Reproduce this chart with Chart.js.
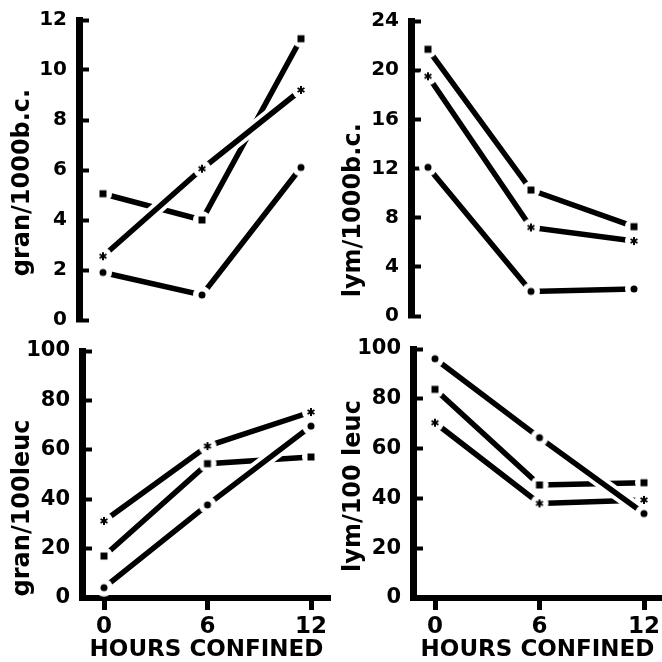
<!DOCTYPE html>
<html>
<head>
<meta charset="utf-8">
<script src="https://cdn.jsdelivr.net/npm/chart.js@4.4.1/dist/chart.umd.min.js"></script>
<style>
  body { margin: 0; background: #fff; }
  #wrap { position: relative; width: 662px; height: 662px; overflow: hidden; }
  canvas { position: absolute; }
</style>
</head>
<body>
<div id="wrap">
  <canvas id="gran-abs" width="331" height="331" style="left:0;top:0"></canvas>
  <canvas id="lym-abs" width="331" height="331" style="left:331px;top:0"></canvas>
  <canvas id="gran-pct" width="331" height="331" style="left:0;top:331px"></canvas>
  <canvas id="lym-pct" width="331" height="331" style="left:331px;top:331px"></canvas>
</div>
<script>
//data
const hours = [0, 6, 12];

const granAbsSquare = [5.05, 4.0, 11.25];
const granAbsStar = [2.55, 6.05, 9.2];
const granAbsCircle = [1.9, 1.0, 6.1];

const lymAbsSquare = [21.7, 10.25, 7.27];
const lymAbsStar = [19.5, 7.2, 6.1];
const lymAbsCircle = [12.1, 2.0, 2.2];

const granPctSquare = [17.0, 54.4, 57.1];
const granPctStar = [31.2, 61.5, 75.3];
const granPctCircle = [4.2, 37.7, 69.6];

const lymPctSquare = [83.8, 45.4, 46.3];
const lymPctStar = [70.4, 38.0, 39.4];
const lymPctCircle = [96.1, 64.4, 33.9];

const xTitle = 'HOURS CONFINED';

Chart.defaults.font.family = 'DejaVu Sans';
Chart.defaults.font.weight = 'bold';
Chart.defaults.color = '#000';

//markers with a white halo so the lines stop short of them
function makeMarker(kind) {
  const c = document.createElement('canvas');
  c.width = 20;
  c.height = 20;
  const ctx = c.getContext('2d');
  ctx.fillStyle = '#fff';
  ctx.beginPath();
  ctx.arc(10, 10, 9, 0, Math.PI * 2);
  ctx.fill();
  ctx.fillStyle = '#000';
  ctx.strokeStyle = '#000';
  if (kind === 'square') {
    ctx.fillRect(6.5, 6.5, 7, 7);
  } else if (kind === 'circle') {
    ctx.beginPath();
    ctx.arc(10, 10, 3.5, 0, Math.PI * 2);
    ctx.fill();
  } else {
    ctx.lineWidth = 2;
    for (let i = 0; i < 3; i++) {
      const a = Math.PI / 2 + i * Math.PI / 3;
      ctx.beginPath();
      ctx.moveTo(10 - Math.cos(a) * 4, 10 - Math.sin(a) * 4);
      ctx.lineTo(10 + Math.cos(a) * 4, 10 + Math.sin(a) * 4);
      ctx.stroke();
    }
  }
  return c;
}

const markers = {
  square: makeMarker('square'),
  star: makeMarker('star'),
  circle: makeMarker('circle')
};

function toPoints(values) {
  return values.map((v, i) => ({x: hours[i], y: v}));
}

// white casing under each line, so a later line cuts the earlier ones
function casing(values, order) {
  return {
    data: toPoints(values),
    borderColor: '#fff',
    borderWidth: 13,
    pointRadius: 0,
    tension: 0,
    clip: false,
    order: order
  };
}

function series(values, kind, order) {
  return {
    data: toPoints(values),
    borderColor: '#000',
    borderWidth: 5.5,
    borderCapStyle: 'round',
    pointStyle: markers[kind],
    pointRadius: 9,
    tension: 0,
    clip: false,
    order: order
  };
}

const panels = [
  {id: 'gran-abs', title: 'gran/1000b.c.', pad: 3, yMax: 12, yStep: 2,
    square: granAbsSquare, star: granAbsStar, circle: granAbsCircle,
    axisX: 79, top: 20, bottom: 320, h0: 103, h12: 301, showX: false, tickSize: 20},
  {id: 'lym-abs', title: 'lym/1000b.c.', pad: 10, yMax: 24, yStep: 4,
    square: lymAbsSquare, star: lymAbsStar, circle: lymAbsCircle,
    axisX: 80, top: 21, bottom: 316, h0: 97, h12: 303, showX: false, tickSize: 20},
  {id: 'gran-pct', title: 'gran/100leuc', pad: 8, yMax: 100, yStep: 20,
    square: granPctSquare, star: granPctStar, circle: granPctCircle,
    axisX: 82, top: 20, bottom: 267, h0: 104, h12: 311, showX: true, tickSize: 21},
  {id: 'lym-pct', title: 'lym/100 leuc', pad: 3, yMax: 100, yStep: 20,
    square: lymPctSquare, star: lymPctStar, circle: lymPctCircle,
    axisX: 82, top: 18, bottom: 267, h0: 104, h12: 313, showX: true, tickSize: 21}
];

function createPanel(p) {
  const pxHr = (p.h12 - p.h0) / 12;
  const xMin = -(p.h0 - p.axisX) / pxHr;
  const xMax = 12 + (331 - p.h12) / pxHr;

  return new Chart(document.getElementById(p.id), {
    type: 'line',
    data: {
      datasets: [
        casing(p.square, 6),
        series(p.square, 'square', 5),
        casing(p.star, 4),
        series(p.star, 'star', 3),
        casing(p.circle, 2),
        series(p.circle, 'circle', 1)
      ]
    },
    options: {
      responsive: false,
      animation: false,
      events: [],
      layout: {
        autoPadding: false,
        padding: {left: 0, right: 0, top: p.top, bottom: p.showX ? 0 : 331 - p.bottom}
      },
      plugins: {legend: {display: false}, tooltip: {enabled: false}},
      scales: {
        x: {
          type: 'linear',
          display: p.showX,
          min: xMin,
          max: xMax,
          afterBuildTicks: s => { s.ticks = hours.map(h => ({value: h})); },
          afterFit: s => {
            if (p.showX) {
              s.height = 331 - p.bottom;
            }
            s.paddingLeft = 0;
            s.paddingRight = 0;
          },
          border: {display: true, color: '#000', width: 6},
          grid: {drawOnChartArea: false, color: '#000', tickLength: 12, tickWidth: 5},
          ticks: {font: {size: 23, lineHeight: 1}, padding: 6, maxRotation: 0, autoSkip: false},
          title: {display: true, text: xTitle, font: {size: 23, lineHeight: 1}, padding: {top: 0, bottom: 0}}
        },
        y: {
          min: 0,
          max: p.yMax,
          afterFit: s => {
            s.width = p.axisX;
            s.paddingTop = 0;
            s.paddingBottom = 0;
          },
          border: {color: '#000', width: 7},
          grid: {drawOnChartArea: false, color: '#000', tickLength: -10, tickWidth: 4},
          ticks: {stepSize: p.yStep, font: {size: p.tickSize, lineHeight: 1}, padding: 22},
          title: {display: true, text: p.title + ' '.repeat(p.pad), font: {size: 24, lineHeight: 1}, padding: {top: 11, bottom: 0}}
        }
      }
    }
  });
}

panels.forEach(createPanel);
</script>
</body>
</html>
